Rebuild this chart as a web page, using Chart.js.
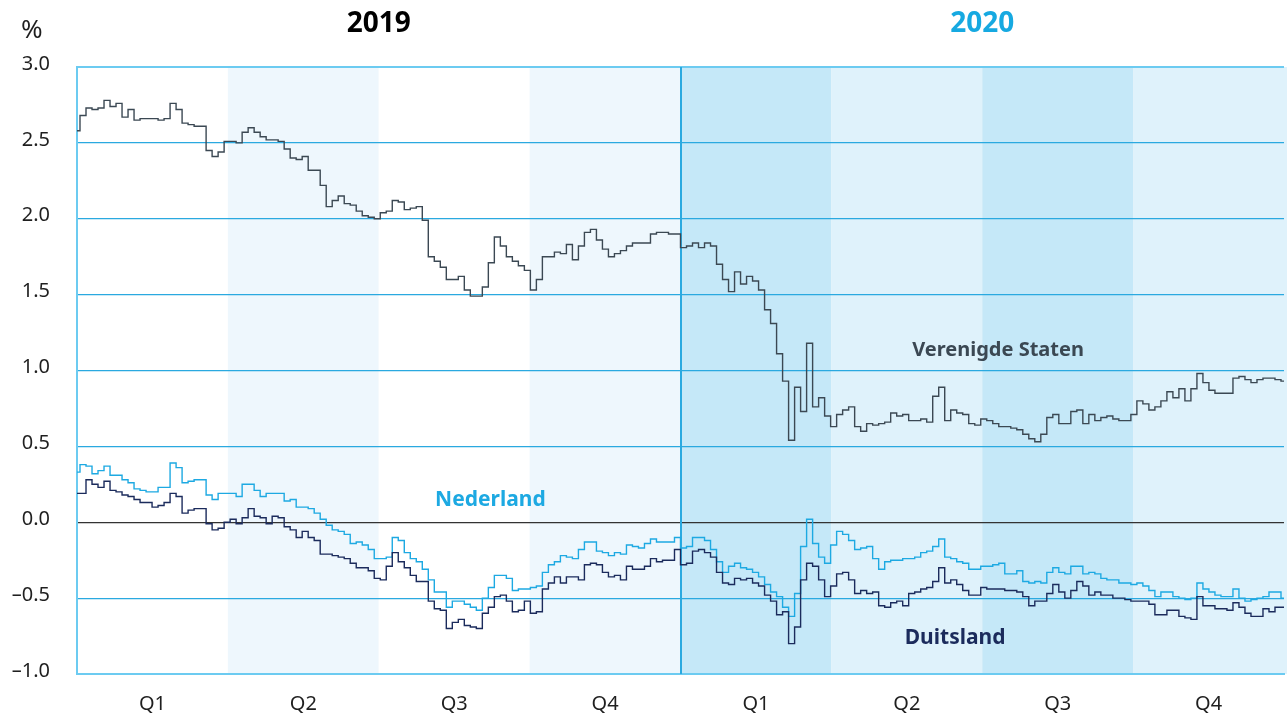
<!DOCTYPE html>
<html>
<head>
<meta charset="utf-8">
<script src="https://cdn.jsdelivr.net/npm/chart.js@4"></script>
<style>
  html, body { margin: 0; padding: 0; background: #ffffff; }
  #wrap { width: 1287px; height: 718px; position: relative; }
</style>
</head>
<body>
<div id="wrap"><canvas id="yieldChart" width="1287" height="718"></canvas></div>
<script>
// ============================================================================
// DATA (10-year government bond yields, %, sampled roughly every 2-3 trading days)
// ============================================================================

const years = ['2019', '2020'];
const quarterLabels = ['Q1', 'Q2', 'Q3', 'Q4', 'Q1', 'Q2', 'Q3', 'Q4'];
const yTicks = [3.0, 2.5, 2.0, 1.5, 1.0, 0.5, 0.0, -0.5, -1.0];

const usValues = [
    2.58, 2.68, 2.73, 2.72, 2.73, 2.78, 2.74, 2.76, 2.67, 2.72, 2.65,
    2.66, 2.66, 2.66, 2.65, 2.66, 2.76, 2.72, 2.63, 2.62, 2.61,
    2.61, 2.45, 2.41, 2.44, 2.51, 2.51, 2.50, 2.57, 2.60, 2.57,
    2.54, 2.52, 2.52, 2.51, 2.46, 2.40, 2.39, 2.41, 2.32, 2.32,
    2.22, 2.08, 2.12, 2.15, 2.10, 2.09, 2.05, 2.02, 2.01, 2.00,
    2.04, 2.05, 2.12, 2.11, 2.06, 2.07, 2.08, 1.99, 1.75, 1.72,
    1.68, 1.60, 1.60, 1.62, 1.53, 1.49, 1.49, 1.55, 1.71, 1.88,
    1.82, 1.75, 1.72, 1.69, 1.66, 1.53, 1.60, 1.75, 1.75, 1.78,
    1.77, 1.83, 1.73, 1.82, 1.91, 1.93, 1.86, 1.80, 1.75, 1.77,
    1.79, 1.82, 1.84, 1.84, 1.84, 1.90, 1.91, 1.91, 1.90, 1.90,
    1.81, 1.82, 1.84, 1.81, 1.84, 1.82, 1.70, 1.60, 1.52, 1.65,
    1.57, 1.62, 1.59, 1.53, 1.40, 1.31, 1.11, 0.93, 0.54, 0.89,
    0.73, 1.18, 0.76, 0.82, 0.70, 0.63, 0.71, 0.74, 0.76, 0.63,
    0.60, 0.65, 0.64, 0.65, 0.66, 0.72, 0.70, 0.71, 0.67, 0.67,
    0.68, 0.66, 0.83, 0.89, 0.67, 0.74, 0.72, 0.71, 0.65, 0.64,
    0.68, 0.67, 0.65, 0.63, 0.63, 0.62, 0.61, 0.58, 0.55, 0.53,
    0.58, 0.69, 0.71, 0.65, 0.65, 0.73, 0.74, 0.65, 0.71, 0.67,
    0.69, 0.70, 0.68, 0.67, 0.67, 0.71, 0.80, 0.78, 0.74, 0.76,
    0.80, 0.86, 0.82, 0.88, 0.80, 0.88, 0.98, 0.92, 0.87, 0.85,
    0.85, 0.85, 0.95, 0.96, 0.94, 0.92, 0.94, 0.95, 0.95, 0.94, 0.93
];

const nlValues = [
    0.33, 0.38, 0.37, 0.32, 0.34, 0.37, 0.31, 0.31, 0.28, 0.26, 0.22,
    0.21, 0.20, 0.20, 0.23, 0.23, 0.39, 0.36, 0.26, 0.27, 0.28,
    0.28, 0.18, 0.15, 0.19, 0.19, 0.19, 0.17, 0.25, 0.25, 0.21,
    0.17, 0.19, 0.19, 0.19, 0.14, 0.15, 0.10, 0.10, 0.09, 0.06,
    0.02, -0.02, -0.05, -0.06, -0.08, -0.14, -0.13, -0.15, -0.18, -0.24,
    -0.24, -0.23, -0.10, -0.12, -0.20, -0.24, -0.26, -0.31, -0.38, -0.46,
    -0.46, -0.56, -0.52, -0.52, -0.54, -0.56, -0.58, -0.50, -0.43, -0.35,
    -0.35, -0.37, -0.45, -0.44, -0.44, -0.43, -0.42, -0.33, -0.28, -0.26,
    -0.22, -0.23, -0.24, -0.18, -0.13, -0.13, -0.19, -0.20, -0.22, -0.20,
    -0.21, -0.15, -0.16, -0.17, -0.14, -0.11, -0.13, -0.13, -0.13, -0.10,
    -0.17, -0.16, -0.10, -0.10, -0.12, -0.18, -0.26, -0.33, -0.29, -0.27,
    -0.30, -0.31, -0.33, -0.36, -0.41, -0.46, -0.49, -0.56, -0.62, -0.47,
    -0.16, 0.02, -0.14, -0.23, -0.27, -0.15, -0.06, -0.08, -0.12, -0.18,
    -0.17, -0.16, -0.24, -0.31, -0.26, -0.25, -0.25, -0.24, -0.24, -0.23,
    -0.20, -0.19, -0.16, -0.11, -0.23, -0.24, -0.26, -0.27, -0.31, -0.31,
    -0.29, -0.29, -0.28, -0.27, -0.34, -0.34, -0.32, -0.39, -0.40, -0.39,
    -0.40, -0.33, -0.30, -0.33, -0.34, -0.29, -0.29, -0.34, -0.33, -0.34,
    -0.37, -0.38, -0.38, -0.40, -0.40, -0.41, -0.40, -0.42, -0.45, -0.49,
    -0.46, -0.46, -0.49, -0.50, -0.51, -0.50, -0.40, -0.44, -0.46, -0.48,
    -0.49, -0.49, -0.44, -0.50, -0.52, -0.51, -0.50, -0.49, -0.46, -0.46, -0.50
];

const deValues = [
    0.19, 0.19, 0.28, 0.25, 0.23, 0.27, 0.21, 0.20, 0.18, 0.17, 0.15,
    0.13, 0.13, 0.10, 0.11, 0.13, 0.19, 0.17, 0.06, 0.08, 0.09,
    0.09, -0.01, -0.05, -0.04, 0.00, 0.02, -0.01, 0.03, 0.09, 0.04,
    0.03, -0.01, 0.04, 0.03, -0.03, -0.05, -0.10, -0.06, -0.10, -0.12,
    -0.21, -0.21, -0.22, -0.23, -0.24, -0.27, -0.30, -0.30, -0.32, -0.37,
    -0.38, -0.29, -0.20, -0.26, -0.30, -0.35, -0.39, -0.39, -0.52, -0.57,
    -0.58, -0.70, -0.66, -0.64, -0.68, -0.69, -0.70, -0.60, -0.56, -0.49,
    -0.48, -0.52, -0.59, -0.58, -0.52, -0.60, -0.59, -0.44, -0.40, -0.36,
    -0.40, -0.36, -0.36, -0.38, -0.28, -0.27, -0.28, -0.33, -0.36, -0.35,
    -0.38, -0.29, -0.31, -0.31, -0.29, -0.24, -0.26, -0.25, -0.25, -0.18,
    -0.28, -0.27, -0.19, -0.18, -0.20, -0.23, -0.33, -0.40, -0.41, -0.37,
    -0.38, -0.37, -0.40, -0.42, -0.48, -0.52, -0.61, -0.59, -0.80, -0.69,
    -0.38, -0.27, -0.29, -0.38, -0.49, -0.42, -0.34, -0.33, -0.38, -0.47,
    -0.45, -0.47, -0.46, -0.55, -0.56, -0.53, -0.52, -0.55, -0.47, -0.46,
    -0.44, -0.43, -0.39, -0.30, -0.40, -0.38, -0.41, -0.45, -0.48, -0.48,
    -0.43, -0.44, -0.44, -0.44, -0.45, -0.45, -0.46, -0.49, -0.55, -0.52,
    -0.52, -0.47, -0.41, -0.46, -0.50, -0.45, -0.39, -0.42, -0.48, -0.46,
    -0.48, -0.48, -0.50, -0.50, -0.51, -0.52, -0.52, -0.52, -0.54, -0.61,
    -0.61, -0.58, -0.58, -0.62, -0.63, -0.64, -0.49, -0.55, -0.55, -0.57,
    -0.57, -0.58, -0.53, -0.56, -0.60, -0.62, -0.62, -0.57, -0.59, -0.56, -0.56
];

// ============================================================================
// STYLE
// ============================================================================

const FONT = "'Noto Sans', 'Open Sans', sans-serif";
const TEXT = '#1f1f1f';
const GRID_BLUE = '#2aa9e0';
const EDGE_BLUE = '#6ccbf1';

const colors = {
    us: '#3b4853',
    nl: '#1da9e2',
    de: '#1b2b5c',
    year2020: '#16a9e1'
};

// one background colour per quarter
const bandColors = [
    '#ffffff', '#eef7fd', '#ffffff', '#eef7fd',
    '#c5e8f8', '#dff2fb', '#c5e8f8', '#dff2fb'
];

// x is measured in quarters (0 = start of 2019, 8 = end of 2020)
const STEP = 8 / (usValues.length - 1);
const toPoints = values => values.map((v, i) => ({ x: i * STEP, y: v }));

// ============================================================================
// PLUGINS
// ============================================================================

const quarterBands = {
    id: 'quarterBands',
    beforeDraw(chart) {
        const { ctx, chartArea, scales } = chart;
        ctx.save();
        bandColors.forEach((c, q) => {
            const x0 = scales.x.getPixelForValue(q);
            const x1 = q === bandColors.length - 1 ? chart.width : scales.x.getPixelForValue(q + 1);
            ctx.fillStyle = c;
            ctx.fillRect(x0, chartArea.top, x1 - x0, chartArea.bottom - chartArea.top);
        });
        ctx.restore();
    },
    beforeDatasetsDraw(chart) {
        // divider between 2019 and 2020
        const { ctx, chartArea, scales } = chart;
        const x = Math.round(scales.x.getPixelForValue(4));
        ctx.save();
        ctx.strokeStyle = GRID_BLUE;
        ctx.lineWidth = 2;
        ctx.beginPath();
        ctx.moveTo(x, chartArea.top);
        ctx.lineTo(x, chartArea.bottom);
        ctx.stroke();
        ctx.restore();
    }
};

const chartLabels = {
    id: 'chartLabels',
    afterDraw(chart) {
        const { ctx, scales } = chart;
        const x = v => scales.x.getPixelForValue(v);
        const y = v => scales.y.getPixelForValue(v);
        ctx.save();
        ctx.textBaseline = 'middle';

        ctx.textAlign = 'left';
        ctx.fillStyle = TEXT;
        ctx.font = `400 26px ${FONT}`;
        ctx.fillText('%', 21, 31);

        ctx.textAlign = 'center';
        ctx.font = `700 28px ${FONT}`;
        ctx.fillStyle = '#000000';
        ctx.fillText(years[0], x(2), 24);
        ctx.fillStyle = colors.year2020;
        ctx.fillText(years[1], x(6), 24);

        ctx.font = `700 20px ${FONT}`;
        ctx.fillStyle = colors.us;
        ctx.fillText('Verenigde Staten', x(6.105), y(1.13));
        ctx.font = `700 21px ${FONT}`;
        ctx.fillStyle = colors.nl;
        ctx.fillText('Nederland', x(2.74), y(0.145));
        ctx.fillStyle = colors.de;
        ctx.fillText('Duitsland', x(5.82), y(-0.763));
        ctx.restore();
    }
};

// ============================================================================
// CHART
// ============================================================================

const lineSet = (label, values, color) => ({
    label: label,
    data: toPoints(values),
    borderColor: color,
    borderWidth: 1.4,
    pointRadius: 0,
    stepped: 'middle',
    fill: false
});

new Chart(document.getElementById('yieldChart'), {
    type: 'line',
    data: {
        datasets: [
            lineSet('Duitsland', deValues, colors.de),
            lineSet('Nederland', nlValues, colors.nl),
            lineSet('Verenigde Staten', usValues, colors.us)
        ]
    },
    options: {
        responsive: false,
        animation: false,
        layout: { padding: { top: 67, right: 3, left: 0, bottom: 0 } },
        plugins: {
            legend: { display: false },
            tooltip: { enabled: false }
        },
        scales: {
            x: {
                type: 'linear',
                min: 0,
                max: 8,
                afterFit: scale => { scale.height = 44; },
                afterBuildTicks: scale => {
                    scale.ticks = quarterLabels.map((q, i) => ({ value: i + 0.5 }));
                },
                grid: { display: false },
                border: { display: true, color: EDGE_BLUE, width: 2 },
                ticks: {
                    autoSkip: false,
                    maxRotation: 0,
                    padding: 10,
                    color: TEXT,
                    font: { family: FONT, size: 20 },
                    callback: (value, index) => quarterLabels[index]
                }
            },
            y: {
                min: -1,
                max: 3,
                afterFit: scale => { scale.width = 77; },
                afterBuildTicks: scale => {
                    scale.ticks = yTicks.map(v => ({ value: v }));
                },
                grid: {
                    drawTicks: false,
                    color: c => {
                        if (c.tick.value === 0) return '#333333';
                        if (c.tick.value === 3 || c.tick.value === -1) return EDGE_BLUE;
                        return GRID_BLUE;
                    },
                    lineWidth: c => (c.tick.value === 3 ? 2 : 1.2)
                },
                border: { display: true, color: EDGE_BLUE, width: 2 },
                ticks: {
                    padding: 27,
                    labelOffset: -3,
                    color: TEXT,
                    font: { family: FONT, size: 20 },
                    callback: v => v.toFixed(1).replace('-', '\u2013')
                }
            }
        }
    },
    plugins: [quarterBands, chartLabels]
});
</script>
</body>
</html>
